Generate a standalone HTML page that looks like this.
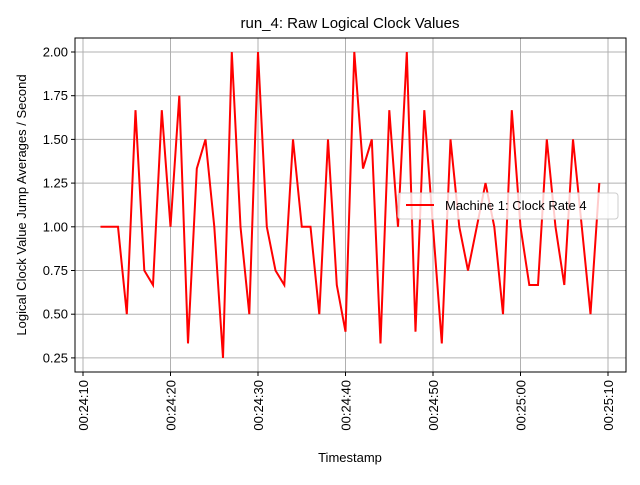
<!DOCTYPE html>
<html><head><meta charset="utf-8"><style>
body{margin:0;background:#fff}
svg text{font-family:"Liberation Sans","DejaVu Sans",sans-serif;fill:#000}
</style></head><body>
<svg id="c" width="640" height="480" xmlns="http://www.w3.org/2000/svg">
<rect width="640" height="480" fill="#fff"/>
<text x="350" y="28" font-size="15" text-anchor="middle">run_4: Raw Logical Clock Values</text>
<g id="grid"></g>
<g id="ticks"></g>
<path id="line" fill="none" stroke="#ff0000" stroke-width="2" stroke-linejoin="miter"/>
<rect x="75" y="38" width="551" height="334" fill="none" stroke="#000" stroke-width="1"/>
<text x="350" y="462" font-size="13" text-anchor="middle">Timestamp</text>
<text transform="translate(26,205) rotate(-90)" font-size="13" text-anchor="middle">Logical Clock Value Jump Averages / Second</text>
<g>
<rect x="398" y="193" width="220" height="26" rx="3" fill="#fff" fill-opacity="0.8" stroke="#ccc"/>
<line x1="406" y1="205" x2="434" y2="205" stroke="#ff0000" stroke-width="2"/>
<text x="445" y="210" font-size="13">Machine 1: Clock Rate 4</text>
</g>
</svg>
<script>
const seconds=[12,13,14,15,16,17,18,19,20,21,22,23,24,25,26,27,28,29,30,31,32,33,34,35,36,37,38,39,40,41,42,43,44,45,46,47,48,49,50,51,52,53,54,55,56,57,58,59,60,61,62,63,64,65,66,67,68,69];
const values=[1.0,1.0,1.0,0.5,1.667,0.75,0.667,1.667,1.0,1.75,0.333,1.333,1.5,1.0,0.25,2.0,1.0,0.5,2.0,1.0,0.75,0.667,1.5,1.0,1.0,0.5,1.5,0.667,0.4,2.0,1.333,1.5,0.333,1.667,1.0,2.0,0.4,1.667,1.0,0.333,1.5,1.0,0.75,1.0,1.25,1.0,0.5,1.667,1.0,0.667,0.667,1.5,1.0,0.667,1.5,1.0,0.5,1.25];
const xTickSecs=[10,20,30,40,50,60,70];
const xTickLabels=["00:24:10","00:24:20","00:24:30","00:24:40","00:24:50","00:25:00","00:25:10"];
const yTicks=[0.25,0.5,0.75,1.0,1.25,1.5,1.75,2.0];
const yTickLabels=["0.25","0.50","0.75","1.00","1.25","1.50","1.75","2.00"];
const X=s=>83+(s-10)*8.75;
const Y=v=>52+(2-v)*174.8;
const NS="http://www.w3.org/2000/svg";
const grid=document.getElementById('grid'),ticks=document.getElementById('ticks');
function mk(tag,attrs,parent){const e=document.createElementNS(NS,tag);for(const k in attrs)e.setAttribute(k,attrs[k]);parent.appendChild(e);return e;}
xTickSecs.forEach((s,i)=>{
 const x=X(s);
 const g=mk('line',{x1:x,x2:x,y1:38,y2:372,stroke:'#b0b0b0','stroke-width':1},grid);
 
 
 const t=mk('line',{x1:x,x2:x,y1:372,y2:376,stroke:'#000'},ticks);
 
 
 const tx=mk('text',{transform:`translate(${x+5},380) rotate(-90)`,'font-size':13,'text-anchor':'end'},ticks);
 tx.textContent=xTickLabels[i];
 
 
});
yTicks.forEach((v,i)=>{
 const y=Y(v);
 const g=mk('line',{x1:75,x2:626,y1:y,y2:y,stroke:'#b0b0b0','stroke-width':1},grid);
 
 
 const t=mk('line',{x1:71,x2:75,y1:y,y2:y,stroke:'#000'},ticks);
 
 
 const tx=mk('text',{x:68,y:y+4.5,'font-size':13,'text-anchor':'end'},ticks);
 tx.textContent=yTickLabels[i];
 
 
});
document.getElementById('line').setAttribute('d',values.map((v,i)=>(i?'L':'M')+X(seconds[i]).toFixed(1)+' '+Y(v).toFixed(1)).join(' '));
</script>
</body></html>
